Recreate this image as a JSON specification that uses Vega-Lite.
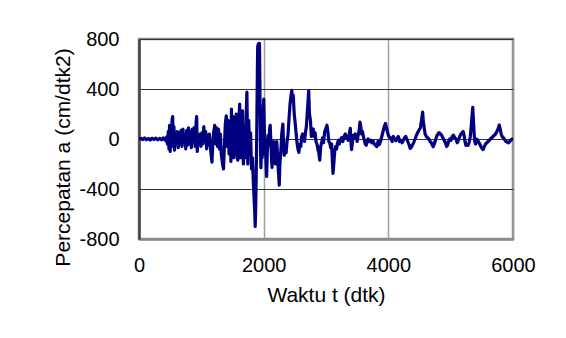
{
  "$schema": "https://vega.github.io/schema/vega-lite/v6.json",
  "autosize": {"type": "none"},
  "padding": {"left": 139, "top": 39, "right": 53, "bottom": 99},
  "width": 374,
  "height": 200,
  "background": "white",
  "config": {
    "view": {"stroke": "#8a8a8a", "strokeWidth": 2.5},
    "font": "Liberation Sans"
  },
  "data": {"values": [
    {"t":0,"a":0},{"t":30,"a":5},{"t":60,"a":-5},{"t":90,"a":8},{"t":120,"a":-6},{"t":150,"a":4},{"t":180,"a":-8},{"t":210,"a":6},{"t":240,"a":-4},{"t":270,"a":7},{"t":300,"a":-7},{"t":330,"a":5},{"t":360,"a":-6},{"t":390,"a":8},{"t":420,"a":-10},{"t":440,"a":15},{"t":455,"a":-40},{"t":470,"a":60},{"t":480,"a":-80},{"t":490,"a":110},{"t":500,"a":-100},{"t":510,"a":70},{"t":520,"a":-50},{"t":530,"a":150},{"t":540,"a":180},{"t":550,"a":-60},{"t":560,"a":100},{"t":570,"a":-90},{"t":585,"a":40},{"t":600,"a":-30},{"t":615,"a":60},{"t":630,"a":-70},{"t":645,"a":50},{"t":660,"a":-40},{"t":675,"a":70},{"t":690,"a":-60},{"t":705,"a":80},{"t":720,"a":-30},{"t":735,"a":40},{"t":750,"a":-80},{"t":765,"a":70},{"t":780,"a":-50},{"t":795,"a":90},{"t":810,"a":-40},{"t":825,"a":60},{"t":840,"a":-70},{"t":855,"a":80},{"t":870,"a":-20},{"t":885,"a":90},{"t":900,"a":-60},{"t":915,"a":120},{"t":925,"a":180},{"t":935,"a":-100},{"t":950,"a":20},{"t":965,"a":-30},{"t":980,"a":40},{"t":995,"a":-60},{"t":1010,"a":50},{"t":1025,"a":-40},{"t":1040,"a":100},{"t":1055,"a":-20},{"t":1070,"a":60},{"t":1085,"a":-80},{"t":1100,"a":30},{"t":1115,"a":-50},{"t":1130,"a":40},{"t":1150,"a":-90},{"t":1170,"a":-185},{"t":1185,"a":-30},{"t":1200,"a":60},{"t":1215,"a":110},{"t":1230,"a":-40},{"t":1245,"a":90},{"t":1260,"a":-60},{"t":1275,"a":80},{"t":1290,"a":-80},{"t":1305,"a":40},{"t":1320,"a":-120},{"t":1340,"a":-200},{"t":1356,"a":-240},{"t":1370,"a":-50},{"t":1385,"a":120},{"t":1400,"a":185},{"t":1415,"a":-60},{"t":1430,"a":150},{"t":1445,"a":-120},{"t":1460,"a":90},{"t":1475,"a":-180},{"t":1483,"a":240},{"t":1495,"a":-100},{"t":1510,"a":180},{"t":1525,"a":-150},{"t":1540,"a":100},{"t":1560,"a":200},{"t":1570,"a":-80},{"t":1585,"a":-170},{"t":1600,"a":120},{"t":1615,"a":280},{"t":1630,"a":-150},{"t":1645,"a":180},{"t":1660,"a":225},{"t":1675,"a":-200},{"t":1690,"a":100},{"t":1705,"a":-150},{"t":1720,"a":200},{"t":1731,"a":375},{"t":1745,"a":-200},{"t":1760,"a":150},{"t":1775,"a":-100},{"t":1790,"a":50},{"t":1805,"a":-240},{"t":1820,"a":-150},{"t":1835,"a":-350},{"t":1846,"a":-470},{"t":1858,"a":-600},{"t":1864,"a":-700},{"t":1872,"a":-550},{"t":1880,"a":-300},{"t":1890,"a":100},{"t":1898,"a":500},{"t":1904,"a":740},{"t":1915,"a":760},{"t":1925,"a":720},{"t":1933,"a":765},{"t":1942,"a":300},{"t":1950,"a":-100},{"t":1956,"a":-230},{"t":1965,"a":-50},{"t":1975,"a":-150},{"t":1985,"a":100},{"t":1995,"a":250},{"t":2002,"a":320},{"t":2010,"a":100},{"t":2020,"a":-120},{"t":2030,"a":-50},{"t":2040,"a":-200},{"t":2048,"a":-300},{"t":2058,"a":-100},{"t":2070,"a":30},{"t":2085,"a":-50},{"t":2095,"a":80},{"t":2105,"a":110},{"t":2115,"a":-20},{"t":2125,"a":-150},{"t":2135,"a":-227},{"t":2145,"a":-80},{"t":2160,"a":-20},{"t":2175,"a":-130},{"t":2190,"a":-200},{"t":2200,"a":-50},{"t":2210,"a":-20},{"t":2220,"a":-100},{"t":2235,"a":-250},{"t":2250,"a":-370},{"t":2260,"a":-200},{"t":2275,"a":-100},{"t":2290,"a":40},{"t":2308,"a":120},{"t":2318,"a":-20},{"t":2330,"a":-130},{"t":2345,"a":-60},{"t":2360,"a":-110},{"t":2375,"a":-20},{"t":2390,"a":30},{"t":2405,"a":150},{"t":2423,"a":280},{"t":2435,"a":330},{"t":2452,"a":390},{"t":2465,"a":300},{"t":2475,"a":350},{"t":2490,"a":200},{"t":2505,"a":130},{"t":2520,"a":50},{"t":2535,"a":-30},{"t":2550,"a":-80},{"t":2565,"a":-107},{"t":2580,"a":-40},{"t":2595,"a":-60},{"t":2610,"a":20},{"t":2625,"a":40},{"t":2640,"a":30},{"t":2655,"a":-20},{"t":2670,"a":50},{"t":2685,"a":100},{"t":2705,"a":250},{"t":2722,"a":385},{"t":2735,"a":200},{"t":2750,"a":150},{"t":2765,"a":20},{"t":2780,"a":60},{"t":2795,"a":80},{"t":2810,"a":20},{"t":2825,"a":50},{"t":2840,"a":-20},{"t":2855,"a":-40},{"t":2870,"a":-80},{"t":2885,"a":-110},{"t":2900,"a":-170},{"t":2915,"a":-60},{"t":2930,"a":-30},{"t":2945,"a":10},{"t":2960,"a":-30},{"t":2980,"a":60},{"t":2995,"a":80},{"t":3015,"a":110},{"t":3030,"a":60},{"t":3045,"a":-20},{"t":3060,"a":-30},{"t":3075,"a":-70},{"t":3090,"a":-40},{"t":3100,"a":-150},{"t":3112,"a":-275},{"t":3125,"a":-200},{"t":3140,"a":-100},{"t":3155,"a":-60},{"t":3170,"a":-80},{"t":3185,"a":-30},{"t":3200,"a":-10},{"t":3215,"a":-40},{"t":3230,"a":-10},{"t":3250,"a":10},{"t":3270,"a":-20},{"t":3290,"a":20},{"t":3310,"a":40},{"t":3325,"a":10},{"t":3340,"a":20},{"t":3355,"a":-10},{"t":3370,"a":30},{"t":3380,"a":60},{"t":3390,"a":85},{"t":3400,"a":-20},{"t":3410,"a":-85},{"t":3425,"a":-20},{"t":3440,"a":30},{"t":3455,"a":10},{"t":3470,"a":40},{"t":3485,"a":20},{"t":3500,"a":-20},{"t":3515,"a":30},{"t":3530,"a":60},{"t":3545,"a":135},{"t":3558,"a":100},{"t":3570,"a":40},{"t":3585,"a":60},{"t":3600,"a":20},{"t":3615,"a":-10},{"t":3630,"a":-40},{"t":3645,"a":-50},{"t":3660,"a":-20},{"t":3675,"a":0},{"t":3695,"a":-20},{"t":3715,"a":-10},{"t":3735,"a":-30},{"t":3755,"a":-15},{"t":3775,"a":-40},{"t":3795,"a":-50},{"t":3815,"a":-60},{"t":3835,"a":-20},{"t":3855,"a":-45},{"t":3875,"a":-20},{"t":3895,"a":20},{"t":3915,"a":60},{"t":3935,"a":100},{"t":3955,"a":125},{"t":3970,"a":90},{"t":3985,"a":60},{"t":4000,"a":30},{"t":4020,"a":10},{"t":4040,"a":10},{"t":4060,"a":-20},{"t":4080,"a":20},{"t":4100,"a":0},{"t":4120,"a":-15},{"t":4140,"a":5},{"t":4160,"a":20},{"t":4180,"a":-20},{"t":4200,"a":-10},{"t":4220,"a":-30},{"t":4240,"a":-10},{"t":4260,"a":10},{"t":4280,"a":20},{"t":4300,"a":-5},{"t":4320,"a":-30},{"t":4335,"a":-50},{"t":4350,"a":-75},{"t":4365,"a":-70},{"t":4385,"a":-50},{"t":4405,"a":-30},{"t":4430,"a":0},{"t":4450,"a":30},{"t":4470,"a":50},{"t":4490,"a":70},{"t":4515,"a":90},{"t":4535,"a":160},{"t":4550,"a":215},{"t":4562,"a":140},{"t":4575,"a":90},{"t":4590,"a":40},{"t":4610,"a":20},{"t":4630,"a":10},{"t":4650,"a":0},{"t":4670,"a":-20},{"t":4690,"a":-30},{"t":4705,"a":-50},{"t":4720,"a":-62},{"t":4738,"a":-40},{"t":4755,"a":-10},{"t":4775,"a":20},{"t":4795,"a":40},{"t":4815,"a":50},{"t":4835,"a":40},{"t":4855,"a":30},{"t":4875,"a":10},{"t":4895,"a":-10},{"t":4915,"a":-30},{"t":4935,"a":-60},{"t":4950,"a":-50},{"t":4965,"a":-20},{"t":4985,"a":0},{"t":5005,"a":-10},{"t":5025,"a":20},{"t":5045,"a":30},{"t":5065,"a":10},{"t":5085,"a":0},{"t":5105,"a":-30},{"t":5125,"a":-10},{"t":5145,"a":20},{"t":5165,"a":40},{"t":5185,"a":50},{"t":5200,"a":60},{"t":5215,"a":30},{"t":5230,"a":-20},{"t":5245,"a":-50},{"t":5262,"a":-45},{"t":5280,"a":-50},{"t":5295,"a":-30},{"t":5315,"a":20},{"t":5330,"a":100},{"t":5345,"a":200},{"t":5355,"a":253},{"t":5365,"a":150},{"t":5375,"a":60},{"t":5385,"a":-20},{"t":5400,"a":-40},{"t":5415,"a":0},{"t":5435,"a":-10},{"t":5455,"a":-30},{"t":5475,"a":-50},{"t":5495,"a":-70},{"t":5520,"a":-85},{"t":5540,"a":-60},{"t":5560,"a":-40},{"t":5580,"a":-30},{"t":5600,"a":-20},{"t":5620,"a":-10},{"t":5640,"a":0},{"t":5660,"a":10},{"t":5680,"a":20},{"t":5700,"a":30},{"t":5720,"a":40},{"t":5740,"a":60},{"t":5760,"a":80},{"t":5780,"a":112},{"t":5795,"a":80},{"t":5810,"a":40},{"t":5825,"a":20},{"t":5845,"a":10},{"t":5865,"a":-5},{"t":5885,"a":-20},{"t":5905,"a":-25},{"t":5925,"a":-30},{"t":5945,"a":-20},{"t":5965,"a":-10},{"t":5985,"a":0},{"t":6000,"a":0}
  ]},
  "mark": {"type": "line", "color": "#000080", "strokeWidth": 3.2, "strokeJoin": "round", "clip": true},
  "encoding": {
    "x": {
      "field": "t", "type": "quantitative",
      "scale": {"domain": [0, 6000], "nice": false, "zero": false},
      "axis": {
        "title": "Waktu t (dtk)", "values": [0, 2000, 4000, 6000],
        "labelExpr": "'' + datum.value", "labelFlush": false, "labelOverlap": false,
        "grid": true, "gridColor": "#a0a0a0", "gridWidth": 1.5,
        "domain": true, "domainColor": "#8a8a8a", "domainWidth": 2.5,
        "ticks": false, "labelPadding": 16,
        "labelFont": "Liberation Sans", "labelFontSize": 20, "labelColor": "#000",
        "titleFont": "Liberation Sans", "titleFontSize": 21, "titleFontWeight": "normal", "titleColor": "#000",
        "titlePadding": 9
      }
    },
    "y": {
      "field": "a", "type": "quantitative",
      "scale": {"domain": [-800, 800], "nice": false},
      "axis": {
        "title": "Percepatan a (cm/dtk2)", "values": [-800, -400, 0, 400, 800],
        "labelExpr": "'' + datum.value", "labelFlush": false, "labelOverlap": false,
        "grid": true, "gridColor": "#333333", "gridWidth": 1,
        "domain": true, "domainColor": "#444444", "domainWidth": 2.5,
        "ticks": false, "labelPadding": 20,
        "labelFont": "Liberation Sans", "labelFontSize": 20, "labelColor": "#000",
        "titleFont": "Liberation Sans", "titleFontSize": 21, "titleFontWeight": "normal", "titleColor": "#000",
        "titlePadding": 5, "titleY": 118
      }
    }
  }
}
